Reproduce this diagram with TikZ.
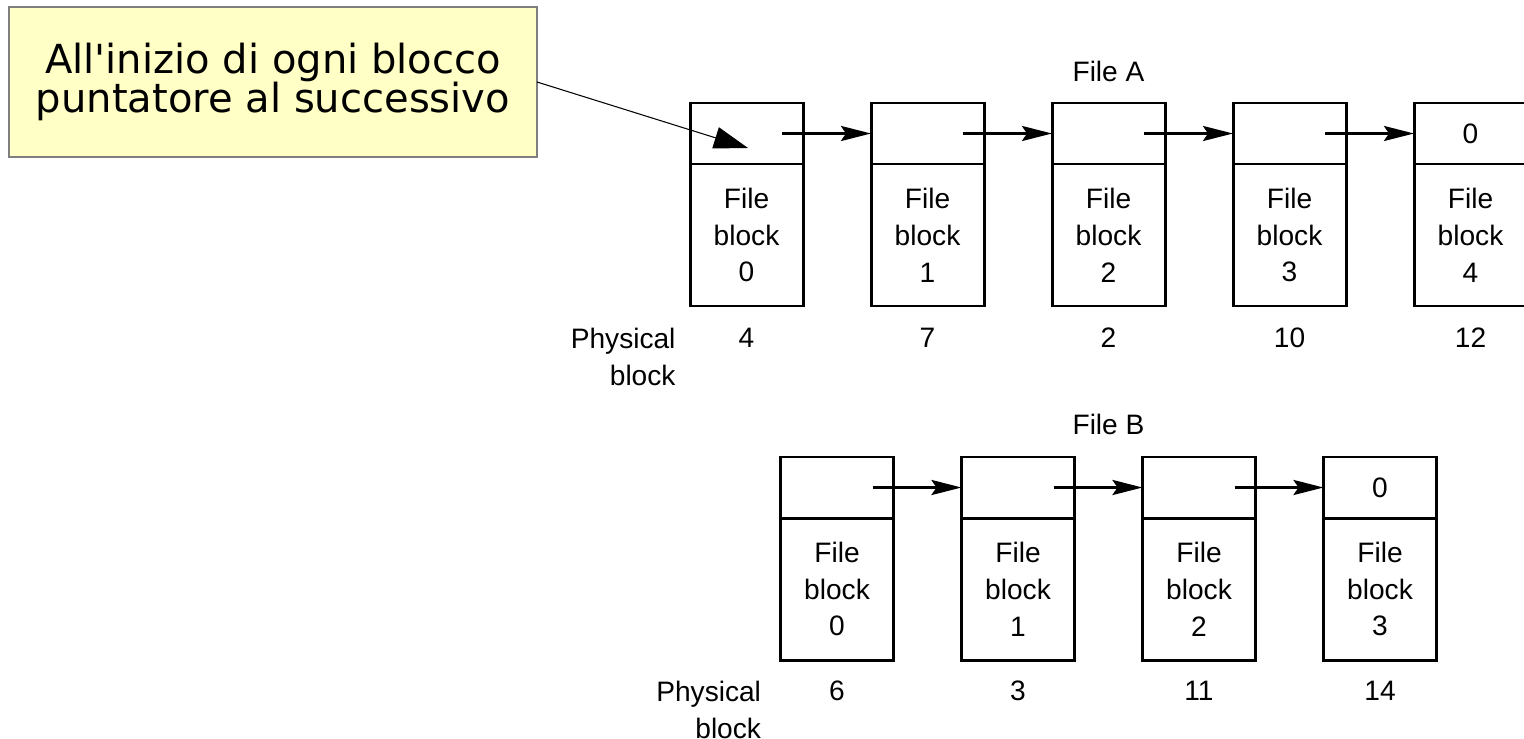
\documentclass[tikz,border=0pt]{standalone}
\usepackage{fontspec}
\setmainfont{Liberation Sans}
\newfontfamily\notefont{DejaVu Sans}
\usetikzlibrary{positioning, arrows.meta}
\definecolor{notefill}{HTML}{FFFFC6}
\definecolor{noteline}{HTML}{7F7F7F}
\newcommand\blockfont{\fontsize{16}{21}\selectfont}

\begin{document}
\begin{tikzpicture}[
  every node/.style={rectangle, sharp corners, align=center, outer sep=0pt},
  head/.style={draw, line width=1.7pt, minimum width=2.26cm, minimum height=1.22cm, font=\blockfont},
  body/.style={draw, line width=1.7pt, minimum width=2.26cm, minimum height=2.84cm, font=\blockfont},
  num/.style={inner sep=0pt, font=\blockfont},
  phys/.style={inner sep=0pt, align=right, font=\blockfont},
  title/.style={inner sep=0pt, font=\blockfont},
  note/.style={fill=notefill, draw=noteline, line width=0.6pt, minimum width=10.56cm,
    minimum height=3cm, font=\notefont\fontsize{22.8}{22.6}\selectfont},
  link/.style={-{Stealth[length=0.6cm, width=0.3cm, inset=0.1cm]}, line width=1.7pt},
  pointer/.style={-{Triangle[length=0.68cm, width=0.44cm]}, line width=0.6pt}
]
\useasboundingbox (0,0) rectangle (30.48,-14.78);

% File A: pointer part on top, data part below
\node[head] (a0h) at (14.93,-2.67) {};
\node[head, right=1.36cm of a0h] (a1h) {};
\node[head, right=1.36cm of a1h] (a2h) {};
\node[head, right=1.36cm of a2h] (a3h) {};
\node[head, right=1.36cm of a3h] (a4h) {0};
\node[body, below=0pt of a0h] (a0b) {File\\block\\0};
\node[body, below=0pt of a1h] (a1b) {File\\block\\1};
\node[body, below=0pt of a2h] (a2b) {File\\block\\2};
\node[body, below=0pt of a3h] (a3b) {File\\block\\3};
\node[body, below=0pt of a4h] (a4b) {File\\block\\4};
\node[title, above=0.42cm of a2h] (fileA) {File A};

% File A: physical block numbers
\node[num] (pa0) at ([yshift=-0.64cm]a0b.south) {4};
\node[num] (pa1) at ([yshift=-0.64cm]a1b.south) {7};
\node[num] (pa2) at ([yshift=-0.64cm]a2b.south) {2};
\node[num] (pa3) at ([yshift=-0.64cm]a3b.south) {10};
\node[num] (pa4) at ([yshift=-0.64cm]a4b.south) {12};
\node[phys, anchor=north east] (physA) at ([xshift=-1.42cm]pa0.north) {Physical\\block};

% File B
\node[head] (b0h) at (16.74,-9.75) {};
\node[head, right=1.36cm of b0h] (b1h) {};
\node[head, right=1.36cm of b1h] (b2h) {};
\node[head, right=1.36cm of b2h] (b3h) {0};
\node[body, below=0pt of b0h] (b0b) {File\\block\\0};
\node[body, below=0pt of b1h] (b1b) {File\\block\\1};
\node[body, below=0pt of b2h] (b2b) {File\\block\\2};
\node[body, below=0pt of b3h] (b3b) {File\\block\\3};
\coordinate (midB) at (b1h.north -| a2h);
\node[title, above=0.44cm of midB] (fileB) {File B};

% File B: physical block numbers
\node[num] (pb0) at ([yshift=-0.62cm]b0b.south) {6};
\node[num] (pb1) at ([yshift=-0.62cm]b1b.south) {3};
\node[num] (pb2) at ([yshift=-0.62cm]b2b.south) {11};
\node[num] (pb3) at ([yshift=-0.62cm]b3b.south) {14};
\node[phys, anchor=north east] (physB) at ([xshift=-1.52cm]pb0.north) {Physical\\block};

% Links to the next block
\draw[link] ([xshift=-0.42cm]a0h.east) -- (a1h);
\draw[link] ([xshift=-0.42cm]a1h.east) -- (a2h);
\draw[link] ([xshift=-0.42cm]a2h.east) -- (a3h);
\draw[link] ([xshift=-0.42cm]a3h.east) -- (a4h);
\draw[link] ([xshift=-0.42cm]b0h.east) -- (b1h);
\draw[link] ([xshift=-0.42cm]b1h.east) -- (b2h);
\draw[link] ([xshift=-0.42cm]b2h.east) -- (b3h);

% Callout
\node[note] (note) at (5.46,-1.64) {All'inizio di ogni blocco\\puntatore al successivo};
\coordinate (tip) at ([xshift=0.03cm, yshift=-0.29cm]a0h.center);
\draw[pointer] (note.east) -- (tip);

\end{tikzpicture}
\end{document}
